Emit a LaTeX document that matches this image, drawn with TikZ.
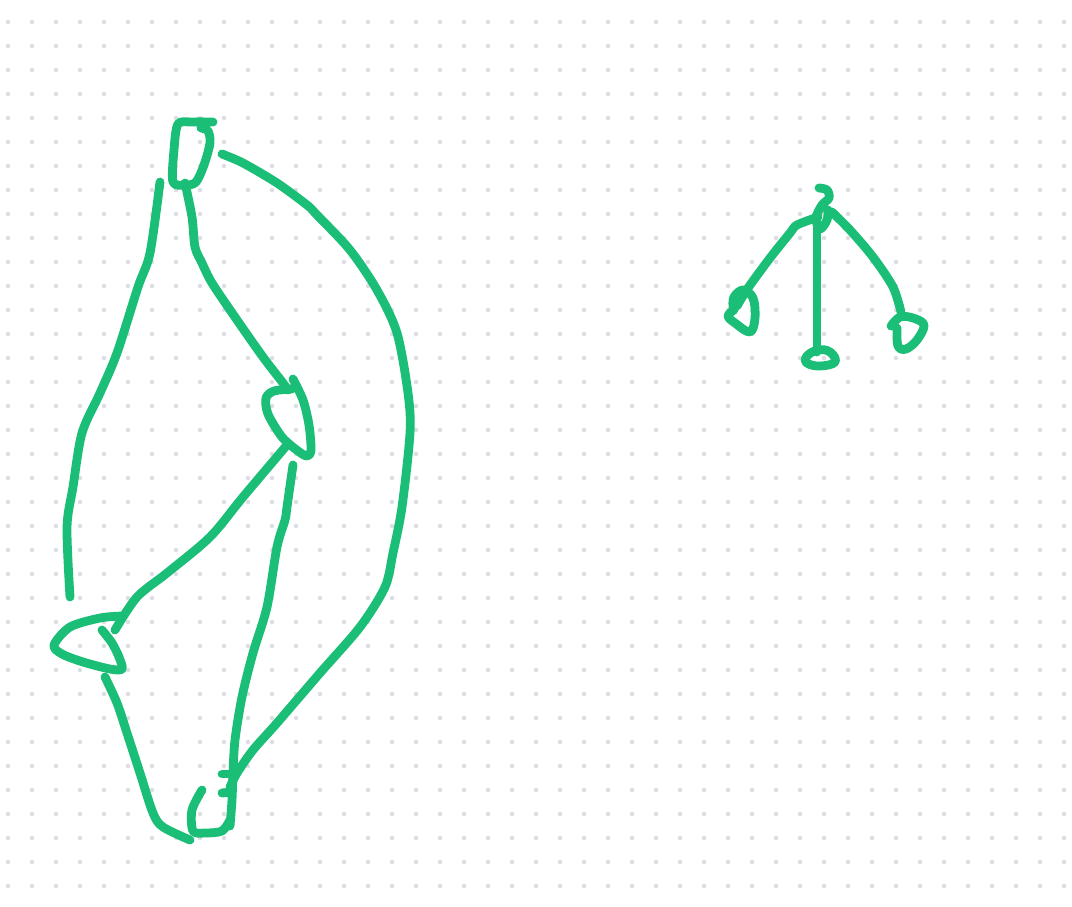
\documentclass[tikz,border=0pt]{standalone}
\usetikzlibrary{backgrounds}
\definecolor{inkgreen}{RGB}{27,190,119}
\definecolor{dotgray}{RGB}{221,222,228}
\tikzset{
  pen/.style={draw=inkgreen, line width=8.8pt, line cap=round, line join=round},
  griddot/.style={fill=dotgray}
}
\begin{document}
\begin{tikzpicture}[x=1pt,y=-1pt]
\useasboundingbox (0,0) rectangle (1072,906);
\fill[white] (0,0) rectangle (1072,906);
\foreach \i in {0,...,44}{
  \foreach \j in {0,...,36}{
    \fill[griddot] (8+24*\i,22+24*\j) circle[radius=2.2];
  }
}
% top loop
\draw[pen] plot[smooth,tension=0.5] coordinates {(213,122) (192,122) (178,124) (174,150) (173,182) (186,185) (196,182) (204,165) (210,143) (208,131) (201,128)};
% left long curve
\draw[pen] plot[smooth,tension=0.5] coordinates {(160,182) (150,253) (138,287) (117,353) (100,393) (82,433) (73,487) (67,527) (70,597)};
% right big arc
\draw[pen] plot[smooth,tension=0.5] coordinates {(222,154) (243,163) (277,183) (307,205) (317,215) (350,250) (377,290) (397,333) (408,393) (410,433) (402,507) (393,553) (385,587) (360,627) (320,673) (277,723) (253,750) (237,773) (230,787)};
% top-to-middle line
\draw[pen] plot[smooth,tension=0.5] coordinates {(185,183) (192,217) (195,247) (202,263) (212,283) (237,320) (263,357) (283,383) (288,390)};
% middle loop
\draw[pen] plot[smooth,tension=0.5] coordinates {(293,379) (303,400) (309,425) (311,450) (307,456) (298,451) (282,437) (268,414) (266,398) (274,391) (292,389)};
% middle to left loop
\draw[pen] plot[smooth,tension=0.5] coordinates {(287,445) (243,497) (210,537) (167,573) (137,597) (115,630)};
% middle to bottom
\draw[pen] plot[smooth,tension=0.5] coordinates {(293,465) (287,507) (285,520) (277,547) (267,607) (253,653) (242,697) (235,740) (233,773) (232,800) (230,826)};
% left loop
\draw[pen] plot[smooth,tension=0.5] coordinates {(122,616) (100,618) (70,627) (54,645) (62,654) (83,662) (110,669) (122,669) (119,657) (112,643) (102,630)};
% left loop to bottom
\draw[pen] plot[smooth,tension=0.5] coordinates {(105,677) (117,703) (127,733) (140,773) (153,813) (163,827) (190,840)};
% bottom loop
\draw[pen] plot[smooth,tension=0.5] coordinates {(230,820) (222,831) (205,833) (193,831) (192,810) (202,790)};
% small ticks
\draw[pen] (222,774) -- (232,774);
\draw[pen] (222,793) -- (232,792);
% right figure: top curl
\draw[pen] plot[smooth,tension=0.6] coordinates {(819,188) (827,190) (829,198) (822,205) (816,218) (820,229) (827,220) (828,210)};
% vertical
\draw[pen] (817,222) -- (817,352);
% bottom small loop
\draw[pen] plot[smooth cycle,tension=0.7] coordinates {(807,356) (818,350) (830,352) (835,362) (820,366) (807,363)};
% left arm
\draw[pen] plot[smooth,tension=0.5] coordinates {(818,217) (797,225) (790,233) (770,258) (748,288) (737,306)};
% left loop
\draw[pen] plot[smooth,tension=0.6] coordinates {(734,310) (728,316) (735,323) (750,332) (755,318) (753,298) (743,290) (734,297) (733,307)};
% right arm
\draw[pen] plot[smooth,tension=0.5] coordinates {(832,212) (850,230) (873,257) (893,287) (901,312)};
% right loop
\draw[pen] plot[smooth,tension=0.6] coordinates {(891,326) (900,317) (913,318) (924,325) (917,340) (906,349) (898,346) (897,328)};
\end{tikzpicture}
\end{document}
